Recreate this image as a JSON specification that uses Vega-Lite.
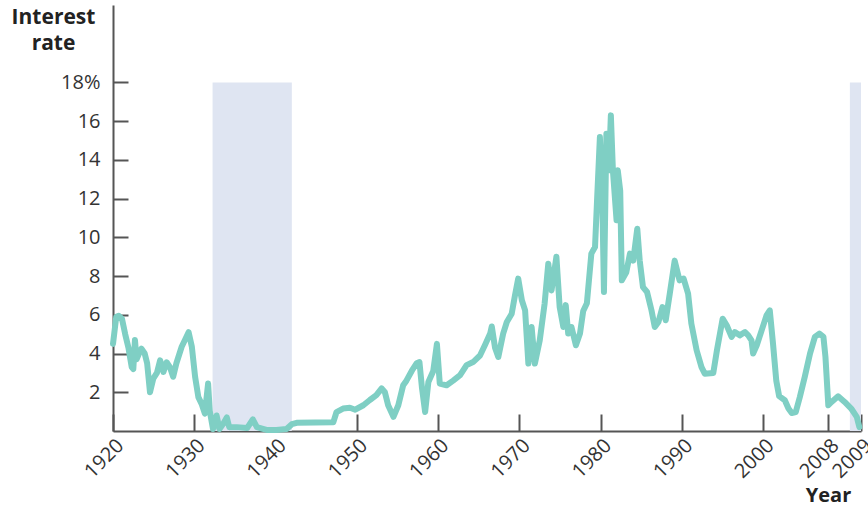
{
  "$schema": "https://vega.github.io/schema/vega-lite/v6.json",
  "width": 748,
  "height": 426,
  "autosize": "none",
  "padding": {"left": 113, "top": 5, "right": 7, "bottom": 75},
  "background": "white",
  "config": {
    "view": {"stroke": null},
    "font": "Open Sans",
    "axis": {"grid": false, "domainColor": "#555555", "domainWidth": 2, "tickColor": "#555555", "tickWidth": 2, "labelColor": "#333333", "labelFont": "Open Sans", "labelFontSize": 20, "titleFont": "Open Sans", "titleFontWeight": "bold", "titleFontSize": 21, "titleColor": "#222222"}
  },
  "datasets": {
    "rates": [
      {"year": 1920.0, "rate": 4.5}, {"year": 1920.4, "rate": 5.9}, {"year": 1920.7, "rate": 5.95}, {"year": 1921.1, "rate": 5.8},
      {"year": 1921.5, "rate": 5.0}, {"year": 1921.9, "rate": 4.3}, {"year": 1922.3, "rate": 3.3}, {"year": 1922.5, "rate": 3.2},
      {"year": 1922.7, "rate": 4.7}, {"year": 1922.9, "rate": 3.7}, {"year": 1923.2, "rate": 4.0}, {"year": 1923.5, "rate": 4.25},
      {"year": 1923.9, "rate": 4.0}, {"year": 1924.2, "rate": 3.5}, {"year": 1924.55, "rate": 2.0}, {"year": 1924.95, "rate": 2.7},
      {"year": 1925.4, "rate": 3.0}, {"year": 1925.8, "rate": 3.65}, {"year": 1926.2, "rate": 3.05}, {"year": 1926.6, "rate": 3.55},
      {"year": 1927.0, "rate": 3.3}, {"year": 1927.4, "rate": 2.8}, {"year": 1927.8, "rate": 3.5}, {"year": 1928.45, "rate": 4.35},
      {"year": 1928.85, "rate": 4.7}, {"year": 1929.3, "rate": 5.1}, {"year": 1929.7, "rate": 4.35}, {"year": 1930.1, "rate": 2.8},
      {"year": 1930.5, "rate": 1.75}, {"year": 1930.9, "rate": 1.4}, {"year": 1931.3, "rate": 0.9}, {"year": 1931.7, "rate": 2.45},
      {"year": 1931.9, "rate": 1.05}, {"year": 1932.3, "rate": 0.1}, {"year": 1932.75, "rate": 0.8}, {"year": 1933.1, "rate": 0.1},
      {"year": 1933.6, "rate": 0.4}, {"year": 1934.0, "rate": 0.7}, {"year": 1934.3, "rate": 0.2}, {"year": 1935.2, "rate": 0.2},
      {"year": 1936.5, "rate": 0.15}, {"year": 1937.2, "rate": 0.6}, {"year": 1937.7, "rate": 0.2}, {"year": 1939.0, "rate": 0.05},
      {"year": 1940.1, "rate": 0.05}, {"year": 1941.35, "rate": 0.1}, {"year": 1942.0, "rate": 0.35}, {"year": 1942.6, "rate": 0.42},
      {"year": 1947.1, "rate": 0.45}, {"year": 1947.5, "rate": 0.98}, {"year": 1948.3, "rate": 1.16}, {"year": 1949.15, "rate": 1.2},
      {"year": 1949.8, "rate": 1.1}, {"year": 1950.8, "rate": 1.33}, {"year": 1951.6, "rate": 1.6}, {"year": 1952.4, "rate": 1.85},
      {"year": 1953.05, "rate": 2.2}, {"year": 1953.45, "rate": 2.0}, {"year": 1953.85, "rate": 1.33}, {"year": 1954.5, "rate": 0.73},
      {"year": 1955.1, "rate": 1.33}, {"year": 1955.7, "rate": 2.36}, {"year": 1956.1, "rate": 2.6}, {"year": 1956.75, "rate": 3.1},
      {"year": 1957.35, "rate": 3.5}, {"year": 1957.7, "rate": 3.56}, {"year": 1958.0, "rate": 2.27}, {"year": 1958.4, "rate": 0.98},
      {"year": 1958.8, "rate": 2.53}, {"year": 1959.4, "rate": 3.1}, {"year": 1959.85, "rate": 4.5}, {"year": 1960.2, "rate": 2.45},
      {"year": 1961.05, "rate": 2.36}, {"year": 1961.85, "rate": 2.6}, {"year": 1962.7, "rate": 2.88}, {"year": 1963.5, "rate": 3.4},
      {"year": 1964.3, "rate": 3.56}, {"year": 1965.15, "rate": 3.9}, {"year": 1965.75, "rate": 4.43}, {"year": 1966.4, "rate": 5.03},
      {"year": 1966.6, "rate": 5.4}, {"year": 1967.0, "rate": 4.3}, {"year": 1967.4, "rate": 3.82}, {"year": 1968.0, "rate": 5.03},
      {"year": 1968.45, "rate": 5.63}, {"year": 1969.05, "rate": 6.06}, {"year": 1969.45, "rate": 7.0}, {"year": 1969.85, "rate": 7.87},
      {"year": 1970.3, "rate": 6.75}, {"year": 1970.7, "rate": 6.23}, {"year": 1971.1, "rate": 3.48}, {"year": 1971.5, "rate": 5.37},
      {"year": 1971.9, "rate": 3.48}, {"year": 1972.5, "rate": 4.68}, {"year": 1973.1, "rate": 6.58}, {"year": 1973.55, "rate": 8.64},
      {"year": 1973.95, "rate": 7.26}, {"year": 1974.55, "rate": 9.0}, {"year": 1974.95, "rate": 6.4}, {"year": 1975.4, "rate": 5.37},
      {"year": 1975.7, "rate": 6.5}, {"year": 1976.0, "rate": 5.03}, {"year": 1976.4, "rate": 5.37}, {"year": 1976.95, "rate": 4.43},
      {"year": 1977.45, "rate": 5.03}, {"year": 1977.85, "rate": 6.2}, {"year": 1978.3, "rate": 6.6}, {"year": 1978.85, "rate": 9.16},
      {"year": 1979.3, "rate": 9.5}, {"year": 1979.55, "rate": 11.9}, {"year": 1979.9, "rate": 15.18}, {"year": 1980.2, "rate": 11.9},
      {"year": 1980.4, "rate": 7.18}, {"year": 1980.7, "rate": 15.35}, {"year": 1981.0, "rate": 13.46}, {"year": 1981.25, "rate": 16.3},
      {"year": 1981.5, "rate": 13.46}, {"year": 1981.95, "rate": 10.88}, {"year": 1982.1, "rate": 13.46}, {"year": 1982.4, "rate": 12.4},
      {"year": 1982.6, "rate": 7.78}, {"year": 1983.15, "rate": 8.2}, {"year": 1983.6, "rate": 9.16}, {"year": 1984.0, "rate": 8.8},
      {"year": 1984.5, "rate": 10.45}, {"year": 1984.8, "rate": 8.8}, {"year": 1985.2, "rate": 7.43}, {"year": 1985.7, "rate": 7.18},
      {"year": 1986.25, "rate": 6.23}, {"year": 1986.65, "rate": 5.37}, {"year": 1987.1, "rate": 5.63}, {"year": 1987.6, "rate": 6.4},
      {"year": 1988.0, "rate": 5.72}, {"year": 1988.5, "rate": 7.1}, {"year": 1989.1, "rate": 8.8}, {"year": 1989.7, "rate": 7.78},
      {"year": 1990.2, "rate": 7.87}, {"year": 1990.75, "rate": 7.1}, {"year": 1991.15, "rate": 5.55}, {"year": 1991.8, "rate": 4.17},
      {"year": 1992.4, "rate": 3.3}, {"year": 1992.8, "rate": 2.96}, {"year": 1993.85, "rate": 3.0}, {"year": 1994.3, "rate": 4.17},
      {"year": 1995.0, "rate": 5.8}, {"year": 1995.5, "rate": 5.46}, {"year": 1996.1, "rate": 4.86}, {"year": 1996.5, "rate": 5.11},
      {"year": 1997.1, "rate": 4.94}, {"year": 1997.75, "rate": 5.11}, {"year": 1998.15, "rate": 4.94}, {"year": 1998.55, "rate": 4.68},
      {"year": 1998.75, "rate": 4.0}, {"year": 1999.2, "rate": 4.43}, {"year": 1999.8, "rate": 5.2}, {"year": 2000.4, "rate": 5.97},
      {"year": 2000.8, "rate": 6.23}, {"year": 2001.2, "rate": 4.5}, {"year": 2001.6, "rate": 2.6}, {"year": 2001.95, "rate": 1.8},
      {"year": 2002.65, "rate": 1.59}, {"year": 2003.1, "rate": 1.16}, {"year": 2003.5, "rate": 0.93}, {"year": 2004.0, "rate": 0.98},
      {"year": 2004.5, "rate": 1.76}, {"year": 2005.1, "rate": 2.79}, {"year": 2005.75, "rate": 4.0}, {"year": 2006.35, "rate": 4.86},
      {"year": 2006.9, "rate": 5.03}, {"year": 2007.4, "rate": 4.86}, {"year": 2007.65, "rate": 3.82}, {"year": 2008.0, "rate": 1.33},
      {"year": 2008.1, "rate": 1.5}, {"year": 2008.3, "rate": 1.79}, {"year": 2008.5, "rate": 1.5}, {"year": 2008.7, "rate": 1.16},
      {"year": 2008.87, "rate": 0.73}, {"year": 2008.95, "rate": 0.2}
    ],
    "shades": [
      {"start": 1932.25, "end": 1942.0, "low": 0, "high": 18},
      {"start": 2008.66, "end": 2009.0, "low": 0, "high": 18}
    ]
  },
  "layer": [
    {
      "data": {"name": "shades"},
      "mark": {"type": "rect", "color": "#dfe5f2"},
      "encoding": {
        "x": {"field": "start", "type": "quantitative", "scale": {"domain": [1920, 2008, 2009], "range": [0, 715.3, 748], "nice": false, "zero": false},
          "axis": {"values": [1920, 1930, 1940, 1950, 1960, 1970, 1980, 1990, 2000, 2008, 2009], "format": "d", "labelAngle": -45, "tickSize": -17, "labelPadding": 21, "title": "Year", "titleX": 715, "titleY": 70, "titleAlign": "center", "titleBaseline": "alphabetic", "titleFontSize": 20, "labelFlush": false, "labelOverlap": false}},
        "x2": {"field": "end"},
        "y": {"field": "low", "type": "quantitative", "scale": {"domain": [0, 22], "nice": false},
          "axis": {"values": [2, 4, 6, 8, 10, 12, 14, 16, 18], "labelExpr": "datum.value == 18 ? '18%' : datum.label", "tickSize": -15, "labelPadding": 28, "title": ["Interest", "rate"], "titleAngle": 0, "titleAlign": "center", "titleBaseline": "top", "titleX": -60, "titleY": 1, "titleLineHeight": 26}},
        "y2": {"field": "high"}
      }
    },
    {
      "data": {"name": "rates"},
      "mark": {"type": "line", "color": "#7fcfc4", "strokeWidth": 6, "strokeJoin": "round", "strokeCap": "round"},
      "encoding": {
        "x": {"field": "year", "type": "quantitative"},
        "y": {"field": "rate", "type": "quantitative"}
      }
    }
  ]
}
